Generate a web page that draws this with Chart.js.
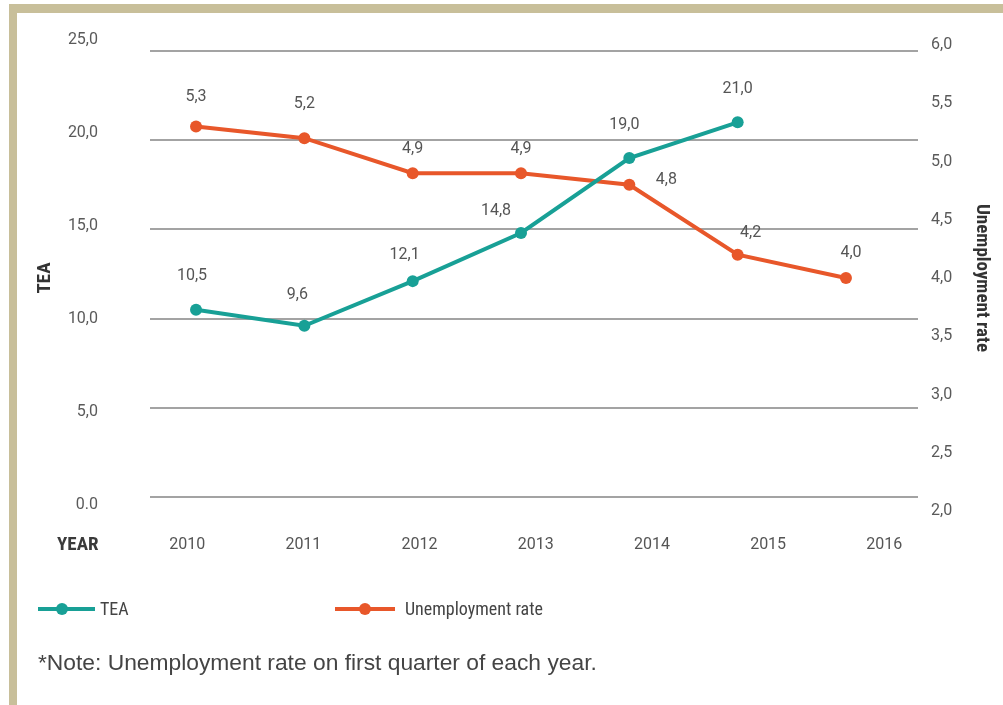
<!DOCTYPE html>
<html>
<head>
<meta charset="utf-8">
<script src="https://cdn.jsdelivr.net/npm/chart.js@4.4.1/dist/chart.umd.min.js"></script>
<style>
  body { margin: 0; background: #fff; width: 1003px; height: 705px; overflow: hidden; position: relative; }
  .frame { position: absolute; left: 9px; top: 4px; width: 1100px; height: 694px;
           border-left: 8px solid #c8bf9a; border-top: 9px solid #c8bf9a; border-bottom: 8px solid #c8bf9a; }
  #chart { position: absolute; left: 0; top: 0; }
  .narrow { font-family: 'Roboto Condensed', 'Liberation Sans Narrow', 'DejaVu Sans Condensed', Roboto, sans-serif; }
  .year { position: absolute; left: 57px; top: 532px; font-size: 19px; font-weight: bold; color: #3a3a3a; }
  .leg { position: absolute; top: 598px; height: 22px; font-size: 18px; color: #444; }
  .leg .line { position: absolute; top: 9px; height: 4px; }
  .leg .dot { position: absolute; top: 5px; width: 12px; height: 12px; border-radius: 6px; }
  .leg .txt { position: absolute; top: 0; white-space: nowrap; }
  .note { position: absolute; left: 38px; top: 649px; font-family: 'Liberation Sans', Arial, sans-serif;
          font-size: 22.8px; color: #444; white-space: nowrap; }
</style>
</head>
<body>
<div class="frame"></div>
<canvas id="chart" width="1003" height="705"></canvas>
<div class="year narrow">YEAR</div>
<div class="leg narrow" style="left:38px">
  <div class="line" style="left:0;width:57px;background:#18a096"></div>
  <div class="dot" style="left:18px;background:#18a096"></div>
  <div class="txt" style="left:62px">TEA</div>
</div>
<div class="leg narrow" style="left:335px">
  <div class="line" style="left:0;width:60px;background:#e8572a"></div>
  <div class="dot" style="left:24px;background:#e8572a"></div>
  <div class="txt" style="left:70px">Unemployment rate</div>
</div>
<div class="note">*Note: Unemployment rate on first quarter of each year.</div>
<script>
// data
const years = ['2010', '2011', '2012', '2013', '2014', '2015', '2016'];
const teaValues = [10.5, 9.6, 12.1, 14.8, 19.0, 21.0];
const unemploymentValues = [5.3, 5.2, 4.9, 4.9, 4.8, 4.2, 4.0];
const teaTicks = [0, 5, 10, 15, 20, 25];
const teaTickLabels = ['0.0', '5,0', '10,0', '15,0', '20,0', '25,0'];
const rateTicks = [2.0, 2.5, 3.0, 3.5, 4.0, 4.5, 5.0, 5.5, 6.0];

const TEAL = '#18a096';
const ORANGE = '#e8572a';
const tickFont = { family: 'Roboto, sans-serif', size: 16 };
const titleFont = { family: "'Roboto Condensed', 'Liberation Sans Narrow', 'DejaVu Sans Condensed', Roboto, sans-serif", size: 19, weight: 'bold' };

function comma(v) {
    return v.toFixed(1).replace('.', ',');
}

// label offsets (dx, dy) from each point, as placed in the original
const labelOffsets = {
    0: [[-4, -34], [-7, -31], [-8, -26], [-25, -22], [-5, -33], [0, -33]],
    1: [[0, -30], [0, -34], [0, -24], [0, -24], [37, -5], [13, -22], [5, -25]]
};

const valueLabels = {
    id: 'valueLabels',
    afterDatasetsDraw(chart) {
        const ctx = chart.ctx;
        ctx.save();
        ctx.font = '16px Roboto, sans-serif';
        ctx.fillStyle = '#555';
        ctx.textAlign = 'center';
        ctx.textBaseline = 'middle';
        chart.data.datasets.forEach((ds, di) => {
            const meta = chart.getDatasetMeta(di);
            meta.data.forEach((pt, i) => {
                const off = labelOffsets[di][i] || [0, -30];
                ctx.fillText(comma(ds.data[i]), pt.x + off[0], pt.y + off[1]);
            });
        });
        ctx.restore();
    }
};

// fixed axis box sizes, so the plot area sits where it does in the original
function fixWidth(w) {
    return function(scale) {
        scale.width = w;
        scale.paddingTop = 0;
        scale.paddingBottom = 0;
    };
}

new Chart(document.getElementById('chart'), {
    type: 'line',
    data: {
        labels: years,
        datasets: [{
            label: 'TEA',
            data: teaValues,
            xAxisID: 'x',
            yAxisID: 'y',
            borderColor: TEAL,
            backgroundColor: TEAL,
            borderWidth: 4,
            pointRadius: 6,
            pointBorderWidth: 0,
            tension: 0
        }, {
            label: 'Unemployment rate',
            data: unemploymentValues,
            xAxisID: 'x',
            yAxisID: 'y1',
            borderColor: ORANGE,
            backgroundColor: ORANGE,
            borderWidth: 4,
            pointRadius: 6,
            pointBorderWidth: 0,
            tension: 0
        }]
    },
    options: {
        responsive: false,
        animation: false,
        devicePixelRatio: 1,
        layout: { padding: { top: 45, left: 0, right: 0, bottom: 0 } },
        plugins: {
            legend: { display: false },
            tooltip: { enabled: false }
        },
        scales: {
            x: {
                type: 'linear',
                display: false,
                min: 2009.575,
                max: 2016.665
            },
            xl: {
                type: 'linear',
                position: 'bottom',
                min: 2009.68,
                max: 2016.29,
                grid: { display: false },
                border: { display: false },
                afterBuildTicks: function(scale) {
                    scale.ticks = years.map(y => ({ value: +y }));
                },
                ticks: {
                    font: tickFont,
                    color: '#555',
                    padding: 16,
                    autoSkip: false,
                    maxRotation: 0,
                    callback: function(value) { return String(value); }
                },
                afterFit: function(scale) {
                    scale.height = 194;
                    scale.paddingLeft = 0;
                    scale.paddingRight = 0;
                }
            },
            // TEA scale used by the data and the gridlines
            y: {
                type: 'linear',
                position: 'left',
                min: -0.785,
                max: 25.336,
                afterBuildTicks: function(scale) {
                    scale.ticks = teaTicks.map(v => ({ value: v }));
                },
                grid: { color: '#a3a3a3', lineWidth: 2, drawTicks: false },
                border: { display: false },
                ticks: { display: false },
                afterFit: fixWidth(0)
            },
            // TEA tick labels, spaced a little wider than the gridlines as in the original
            yl: {
                type: 'linear',
                position: 'left',
                min: -0.32,
                max: 24.73,
                afterBuildTicks: function(scale) {
                    scale.ticks = teaTicks.map(v => ({ value: v }));
                },
                grid: { display: false, drawTicks: false },
                border: { display: false },
                ticks: {
                    font: tickFont,
                    color: '#5a5a5a',
                    padding: 52,
                    callback: function(value) {
                        const i = teaTicks.indexOf(value);
                        return i >= 0 ? teaTickLabels[i] : '';
                    }
                },
                title: {
                    display: true,
                    text: 'TEA',
                    font: titleFont,
                    color: '#333',
                    padding: { top: 34, bottom: 0 }
                },
                afterFit: fixWidth(150)
            },
            y1: {
                type: 'linear',
                position: 'right',
                min: 2,
                max: 6,
                afterBuildTicks: function(scale) {
                    scale.ticks = rateTicks.map(v => ({ value: v }));
                },
                grid: { display: false, drawTicks: false },
                border: { display: false },
                ticks: {
                    font: tickFont,
                    color: '#5a5a5a',
                    padding: 13,
                    callback: function(value) { return comma(value); }
                },
                title: {
                    display: true,
                    text: 'Unemployment rate',
                    font: titleFont,
                    color: '#333',
                    padding: { top: 10, bottom: 0 }
                },
                afterFit: fixWidth(85)
            }
        }
    },
    plugins: [valueLabels]
});
</script>
</body>
</html>
